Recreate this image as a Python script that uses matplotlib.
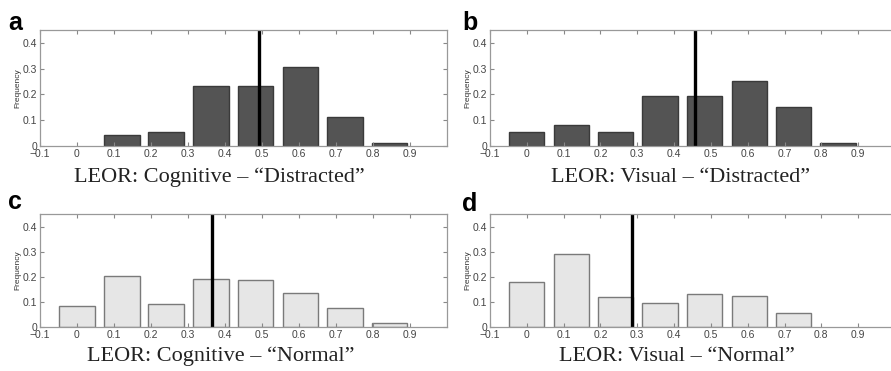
import matplotlib.pyplot as plt

plt.rcParams['font.family'] = ['Liberation Sans', 'DejaVu Sans']

# histogram bin centres (shared by all four panels)
bin_centers = [0.0, 0.121, 0.241, 0.362, 0.483, 0.604, 0.724, 0.845]
bar_width = 0.096

freq_cog_distracted = [0.0, 0.043, 0.055, 0.234, 0.234, 0.305, 0.114, 0.013]
freq_vis_distracted = [0.055, 0.081, 0.055, 0.195, 0.195, 0.253, 0.152, 0.013]
freq_cog_normal = [0.084, 0.204, 0.091, 0.193, 0.187, 0.136, 0.075, 0.017]
freq_vis_normal = [0.180, 0.289, 0.120, 0.097, 0.131, 0.125, 0.055, 0.0]

mean_lines = [0.493, 0.457, 0.365, 0.285]
letters = ['a', 'b', 'c', 'd']
captions = ['LEOR: Cognitive \u2013 \u201cDistracted\u201d',
            'LEOR: Visual \u2013 \u201cDistracted\u201d',
            'LEOR: Cognitive \u2013 \u201cNormal\u201d',
            'LEOR: Visual \u2013 \u201cNormal\u201d']
xticks = [-0.1, 0, 0.1, 0.2, 0.3, 0.4, 0.5, 0.6, 0.7, 0.8, 0.9]
xticklabels = ['\u22120.1', '0', '0.1', '0.2', '0.3', '0.4', '0.5', '0.6', '0.7', '0.8', '0.9']
yticks = [0, 0.1, 0.2, 0.3, 0.4]
yticklabels = ['0', '0.1', '0.2', '0.3', '0.4']

W, H = 891, 371
fig = plt.figure(figsize=(W / 100, H / 100), dpi=100)

# pixel boxes: left, top, right, bottom
boxes = [(40, 30, 447, 146), (490, 30, 895, 146),
         (40, 214, 447, 327), (490, 214, 895, 327)]
series = [freq_cog_distracted, freq_vis_distracted, freq_cog_normal, freq_vis_normal]
styles = [dict(color='#545454', edgecolor='#3a3a3a'),
          dict(color='#545454', edgecolor='#3a3a3a'),
          dict(color='#e6e6e6', edgecolor='#7a7a7a'),
          dict(color='#e6e6e6', edgecolor='#7a7a7a')]
letter_pos = [(8, 30), (462, 30), (8, 209), (462, 211)]
caption_pos = [(219, 182), (681, 182), (221, 361), (677, 361)]

for i in range(4):
    l, t, r, b = boxes[i]
    ax = fig.add_axes([l / W, 1 - b / H, (r - l) / W, (b - t) / H])
    # empty bins are not drawn
    xs = [x for x, v in zip(bin_centers, series[i]) if v > 0]
    vs = [v for v in series[i] if v > 0]
    ax.bar(xs, vs, width=bar_width, linewidth=1, **styles[i])
    ax.axvline(mean_lines[i], color='black', linewidth=2.4)
    ax.set_xlim(-0.1, 1.0)
    ax.set_ylim(0, 0.45)
    ax.set_xticks(xticks)
    ax.set_xticklabels(xticklabels)
    ax.set_yticks(yticks)
    ax.set_yticklabels(yticklabels)
    ax.tick_params(direction='in', length=3, width=0.8, color='#888888',
                   labelsize=7.5, labelcolor='#444444', top=True, right=True, pad=2)
    for s in ax.spines.values():
        s.set_color('#999999')
        s.set_linewidth(0.9)
    ax.set_ylabel('Frequency', fontsize=6, color='#333333', labelpad=1)

    lx, ly = letter_pos[i]
    fig.text(lx / W, 1 - ly / H, letters[i], fontsize=18, fontweight='bold',
             ha='left', va='baseline')
    cx, cy = caption_pos[i]
    fig.text(cx / W, 1 - cy / H, captions[i], fontsize=16, ha='center', va='baseline',
             family=['Liberation Serif', 'DejaVu Serif'], color='#222222')

fig.savefig('out.png', dpi=100)
